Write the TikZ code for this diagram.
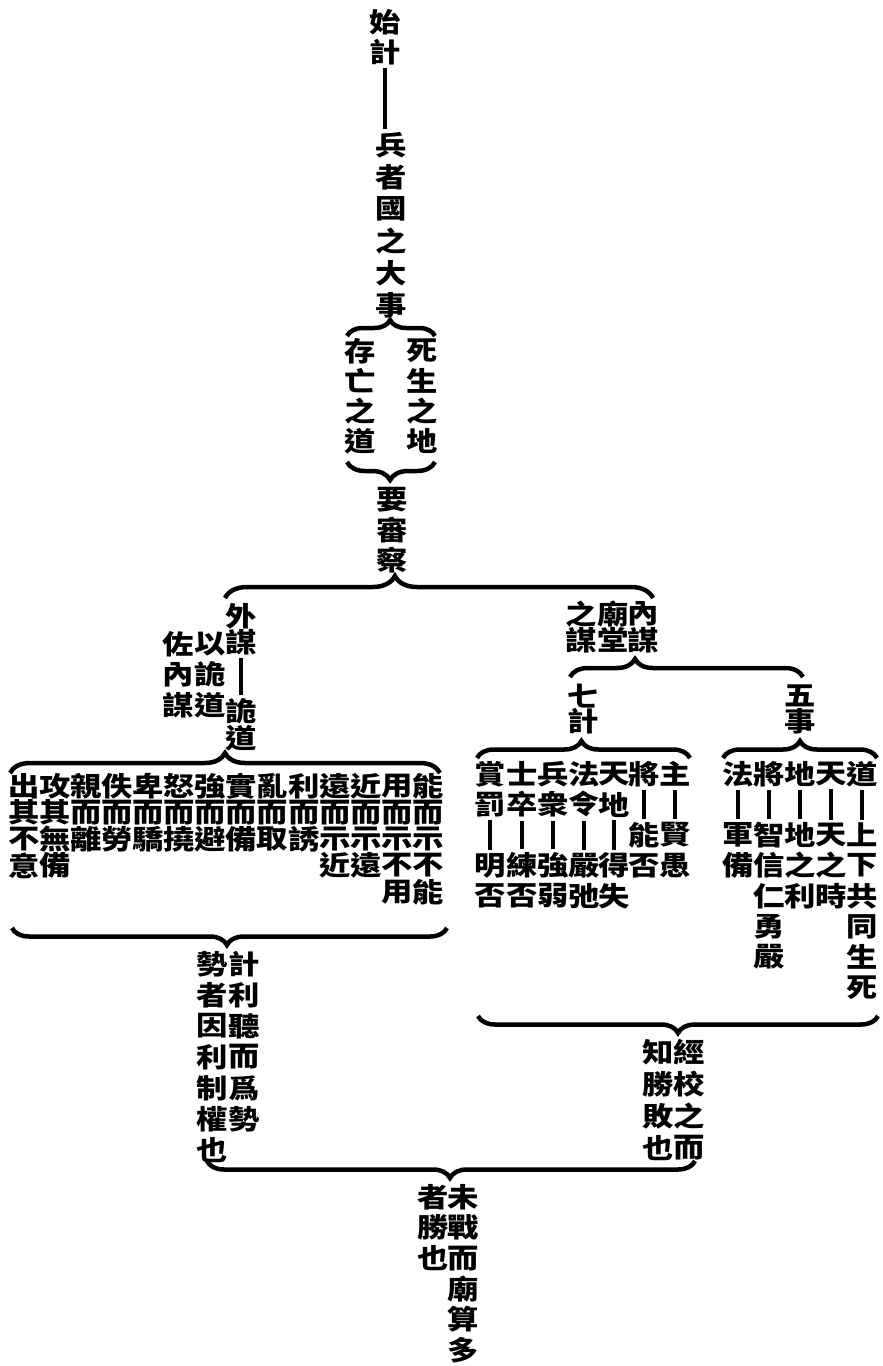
\documentclass[tikz,border=0pt]{standalone}
\usepackage{fontspec}
\newfontfamily\cjk{Noto Sans CJK TC}[FakeStretch=1.16]
\usetikzlibrary{decorations.pathreplacing}
\tikzset{
  ch/.style={inner sep=0pt, font=\cjk\bfseries\fontsize{27}{27}\selectfont},
  bar/.style={line width=3.5pt, shorten <=3pt, shorten >=3pt},
  brcu/.style n args={2}{line width=4.5pt, decorate, decoration={brace, amplitude=#1, aspect=#2}},
  brcd/.style n args={2}{line width=4.5pt, decorate, decoration={brace, mirror, amplitude=#1, aspect=#2}}
}
\newcommand{\vcol}[5]{\foreach \c [count=\i from 0] in {#5}{\node[ch] (#1-\i) at (#2,{#3+\i*#4}) {\c};}}
\begin{document}
\begin{tikzpicture}[x=1pt,y=-1pt]
\useasboundingbox[fill=white] (0,0) rectangle (883,1366);
% top
\vcol{sj}{385}{22}{30}{始,計}
\vcol{bz}{391}{145}{32}{兵,者,國,之,大,事}
\draw[bar] (sj-1.south) -- (sj-1.south |- bz-0.north);
\coordinate (b1l) at (347,336); \coordinate (b1r) at (435,336);
\draw[brcu={16pt}{0.49}] (b1l) -- (b1r);
\vcol{sd}{422}{351}{30}{死,生,之,地}
\vcol{cw}{360}{351}{30}{存,亡,之,道}
\coordinate (b2l) at (347,462); \coordinate (b2r) at (435,462);
\draw[brcd={18pt}{0.49}] (b2l) -- (b2r);
\vcol{ysc}{392}{500}{30}{要,審,察}
\coordinate (b3l) at (225,598); \coordinate (b3r) at (653,598);
\draw[brcu={22pt}{0.397}] (b3l) -- (b3r);
% left: outer plans
\vcol{wma}{241}{616}{26}{外,謀}
\vcol{wmb}{241}{711}{27}{詭,道}
\draw[bar] (wma-1) -- (wmb-0);
\vcol{ygd}{210}{644}{30.5}{以,詭,道}
\vcol{znm}{178}{644}{30.5}{佐,內,謀}
\coordinate (b7l) at (10,773); \coordinate (b7r) at (440,773);
\draw[brcu={20pt}{0.5}] (b7l) -- (b7r);
\vcol{k0}{428}{786}{26.5}{能,而,示,不,能}
\vcol{k1}{397}{786}{26.5}{用,而,示,不,用}
\vcol{k2}{366}{786}{26.5}{近,而,示,遠}
\vcol{k3}{335}{786}{26.5}{遠,而,示,近}
\vcol{k4}{304}{786}{26.5}{利,而,誘}
\vcol{k5}{272}{786}{26.5}{亂,而,取}
\vcol{k6}{241}{786}{26.5}{實,而,備}
\vcol{k7}{210}{786}{26.5}{強,而,避}
\vcol{k8}{179}{786}{26.5}{怒,而,撓}
\vcol{k9}{148}{786}{26.5}{卑,而,驕}
\vcol{k10}{117}{786}{26.5}{佚,而,勞}
\vcol{k11}{86}{786}{26.5}{親,而,離}
\vcol{k12}{55}{786}{26.5}{攻,其,無,備}
\vcol{k13}{24}{786}{26.5}{出,其,不,意}
\coordinate (b8l) at (12,928); \coordinate (b8r) at (447,928);
\draw[brcd={17pt}{0.494}] (b8l) -- (b8r);
\vcol{jl}{244}{964}{31}{計,利,聽,而,爲,勢}
\vcol{sz}{212}{964}{31}{勢,者,因,利,制,權,也}
% right: inner plans
\vcol{nm}{643}{614}{26}{內,謀}
\vcol{mt}{613}{614}{26}{廟,堂}
\vcol{zm}{581}{614}{26}{之,謀}
\coordinate (b4l) at (570,677); \coordinate (b4r) at (803,677);
\draw[brcu={18pt}{0.279}] (b4l) -- (b4r);
\vcol{qj}{583}{696}{25}{七,計}
\vcol{ws}{800}{696}{25}{五,事}
\coordinate (b5l) at (477,758); \coordinate (b5r) at (690,758);
\draw[brcu={17pt}{0.49}] (b5l) -- (b5r);
\coordinate (b6l) at (723,758); \coordinate (b6r) at (877,758);
\draw[brcu={17pt}{0.5}] (b6l) -- (b6r);
% seven reckonings
\vcol{c1a}{675}{774}{30.5}{主}   \vcol{c1b}{675}{835}{30.5}{賢,愚}
\vcol{c2a}{644}{774}{30.5}{將}   \vcol{c2b}{644}{835}{30.5}{能,否}
\vcol{c3a}{614}{774}{30.5}{天,地} \vcol{c3b}{614}{865.5}{30.5}{得,失}
\vcol{c4a}{584}{774}{30.5}{法,令} \vcol{c4b}{584}{865.5}{30.5}{嚴,弛}
\vcol{c5a}{553}{774}{30.5}{兵,衆} \vcol{c5b}{553}{865.5}{30.5}{強,弱}
\vcol{c6a}{522}{774}{30.5}{士,卒} \vcol{c6b}{522}{865.5}{30.5}{練,否}
\vcol{c7a}{490}{774}{30.5}{賞,罰} \vcol{c7b}{490}{865.5}{30.5}{明,否}
\draw[bar] (c1a-0) -- (c1b-0);
\draw[bar] (c2a-0) -- (c2b-0);
\draw[bar] (c3a-1) -- (c3b-0);
\draw[bar] (c4a-1) -- (c4b-0);
\draw[bar] (c5a-1) -- (c5b-0);
\draw[bar] (c6a-1) -- (c6b-0);
\draw[bar] (c7a-1) -- (c7b-0);
% five factors
\vcol{f1a}{862}{774}{30.5}{道} \vcol{f1b}{862}{835}{30.5}{上,下,共,同,生,死}
\vcol{f2a}{831}{774}{30.5}{天} \vcol{f2b}{831}{835}{30.5}{天,之,時}
\vcol{f3a}{800}{774}{30.5}{地} \vcol{f3b}{800}{835}{30.5}{地,之,利}
\vcol{f4a}{769}{774}{30.5}{將} \vcol{f4b}{769}{835}{30.5}{智,信,仁,勇,嚴}
\vcol{f5a}{738}{774}{30.5}{法} \vcol{f5b}{738}{835}{30.5}{軍,備}
\draw[bar] (f1a-0) -- (f1b-0);
\draw[bar] (f2a-0) -- (f2b-0);
\draw[bar] (f3a-0) -- (f3b-0);
\draw[bar] (f4a-0) -- (f4b-0);
\draw[bar] (f5a-0) -- (f5b-0);
\coordinate (b9l) at (478,1016); \coordinate (b9r) at (878,1016);
\draw[brcd={17pt}{0.5}] (b9l) -- (b9r);
\vcol{jx}{689}{1052}{32}{經,校,之,而}
\vcol{zsb}{658}{1052}{32}{知,勝,敗,也}
% bottom
\coordinate (b10l) at (207,1161); \coordinate (b10r) at (695,1161);
\draw[brcd={17pt}{0.498}] (b10l) -- (b10r);
\vcol{wz}{463}{1197}{30.6}{未,戰,而,廟,算,多}
\vcol{zsy}{433}{1197}{30.6}{者,勝,也}
\end{tikzpicture}
\end{document}
